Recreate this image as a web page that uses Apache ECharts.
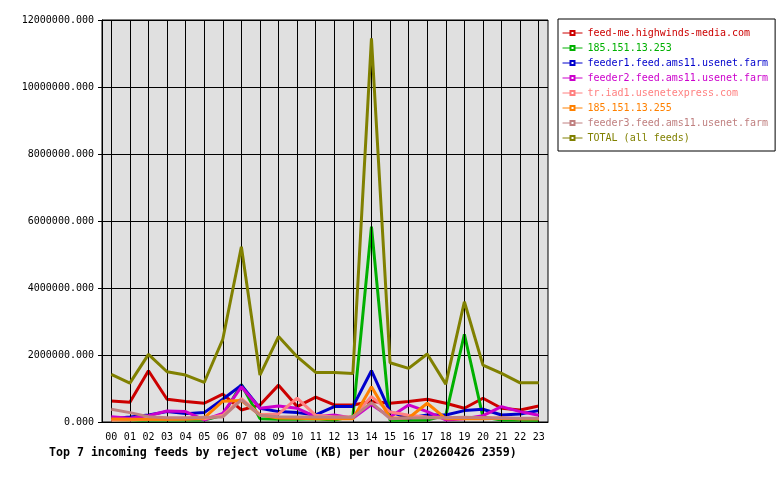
<!DOCTYPE html>
<html>
<head>
<meta charset="utf-8">
<script src="https://cdn.jsdelivr.net/npm/echarts@6/dist/echarts.min.js"></script>
<style>
  body { margin: 0; background: #fff; }
  #chart { width: 780px; height: 480px; }
</style>
</head>
<body>
<div id="chart"></div>
<script>
// hours of the day
var hours = ['00','01','02','03','04','05','06','07','08','09','10','11',
             '12','13','14','15','16','17','18','19','20','21','22','23'];

// reject volume per hour, KB
var feedMe    = [630000, 590000, 1530000, 680000, 610000, 560000, 830000, 360000, 510000, 1100000, 460000, 740000,
                 510000, 510000, 610000, 560000, 610000, 680000, 560000, 410000, 710000, 410000, 360000, 480000];
var ip253     = [50000, 50000, 60000, 60000, 60000, 60000, 200000, 1120000, 100000, 80000, 80000, 100000,
                 60000, 160000, 5830000, 50000, 60000, 60000, 200000, 2620000, 150000, 60000, 60000, 50000];
var feeder1   = [100000, 150000, 210000, 310000, 250000, 280000, 680000, 1100000, 410000, 310000, 280000, 210000,
                 460000, 460000, 1530000, 310000, 110000, 210000, 210000, 340000, 380000, 210000, 240000, 340000];
var feeder2   = [160000, 110000, 190000, 330000, 310000, 60000, 260000, 1050000, 410000, 480000, 410000, 160000,
                 210000, 110000, 520000, 150000, 510000, 310000, 60000, 100000, 190000, 460000, 310000, 200000];
var iad1      = [50000, 60000, 80000, 80000, 90000, 100000, 200000, 700000, 220000, 240000, 710000, 200000,
                 150000, 150000, 760000, 300000, 200000, 150000, 120000, 130000, 120000, 120000, 100000, 100000];
var ip255     = [90000, 80000, 80000, 80000, 90000, 120000, 620000, 640000, 210000, 120000, 110000, 100000,
                 100000, 100000, 1050000, 120000, 120000, 560000, 100000, 100000, 100000, 110000, 100000, 100000];
var feeder3   = [380000, 280000, 160000, 130000, 130000, 140000, 150000, 660000, 200000, 160000, 150000, 150000,
                 140000, 140000, 580000, 100000, 120000, 130000, 130000, 140000, 130000, 120000, 110000, 110000];
var total     = [1420000, 1160000, 2020000, 1500000, 1400000, 1180000, 2470000, 5230000, 1400000, 2550000, 1950000, 1480000,
                 1480000, 1450000, 11450000, 1770000, 1600000, 2030000, 1130000, 3590000, 1700000, 1450000, 1170000, 1170000];

var names  = ['feed-me.highwinds-media.com', '185.151.13.253', 'feeder1.feed.ams11.usenet.farm',
              'feeder2.feed.ams11.usenet.farm', 'tr.iad1.usenetexpress.com', '185.151.13.255',
              'feeder3.feed.ams11.usenet.farm', 'TOTAL (all feeds)'];
var values = [feedMe, ip253, feeder1, feeder2, iad1, ip255, feeder3, total];
var colors = ['#cc0000', '#00b000', '#0000cc', '#cc00cc', '#ff8080', '#ff8000', '#c08080', '#808000'];

var mono = 'DejaVu Sans Mono';

var chart = echarts.init(document.getElementById('chart'));

var series = [{
    // vertical grid lines through each hour
    name: 'grid',
    type: 'line',
    data: [],
    z: 1,
    silent: true,
    markLine: {
        silent: true,
        symbol: 'none',
        animation: false,
        label: { show: false },
        lineStyle: { color: '#000', width: 1, type: 'solid' },
        data: hours.map(function (h) { return { xAxis: h }; })
    }
}];

names.forEach(function (n, i) {
    series.push({
        name: n,
        type: 'line',
        data: values[i],
        z: 2 + i,
        symbol: 'emptyRect',
        symbolSize: 5,
        showSymbol: false,
        color: colors[i],
        lineStyle: { width: 3, color: colors[i] }
    });
});

chart.setOption({
    animation: false,
    backgroundColor: '#fff',
    title: {
        text: 'Top 7 incoming feeds by reject volume (KB) per hour (20260426 2359)',
        left: 44,
        top: 442,
        textStyle: { fontFamily: mono, fontSize: 11.6, fontWeight: 'bold', color: '#000' }
    },
    legend: {
        orient: 'vertical',
        left: 558,
        top: 19,
        padding: [9, 7, 8, 4],
        borderColor: '#000',
        borderWidth: 1,
        backgroundColor: '#fff',
        itemWidth: 20,
        itemHeight: 5,
        itemGap: 5,
        lineStyle: { width: 1 },
        itemStyle: { borderWidth: 1 },
        textStyle: { fontFamily: mono, fontSize: 10 },
        data: names.map(function (n, i) {
            return { name: n, textStyle: { color: colors[i] } };
        })
    },
    grid: {
        left: 102,
        right: 232,
        top: 20,
        bottom: 58,
        show: true,
        backgroundColor: '#e0e0e0',
        borderColor: '#000',
        borderWidth: 1
    },
    xAxis: {
        type: 'category',
        data: hours,
        boundaryGap: true,
        axisLine: { lineStyle: { color: '#000', width: 1 } },
        axisTick: { alignWithLabel: true, length: 4, lineStyle: { color: '#000' } },
        axisLabel: { color: '#000', fontFamily: mono, fontSize: 10, margin: 10, interval: 0 },
        splitLine: { show: false }
    },
    yAxis: {
        type: 'value',
        min: 0,
        max: 12000000,
        interval: 2000000,
        axisLine: { show: true, lineStyle: { color: '#000', width: 1 } },
        axisTick: { show: true, length: 4, lineStyle: { color: '#000' } },
        axisLabel: {
            color: '#000', fontFamily: mono, fontSize: 10, margin: 8,
            formatter: function (v) { return v.toFixed(3); }
        },
        splitLine: { show: true, lineStyle: { color: '#000', width: 1 } }
    },
    series: series
});
</script>
</body>
</html>
